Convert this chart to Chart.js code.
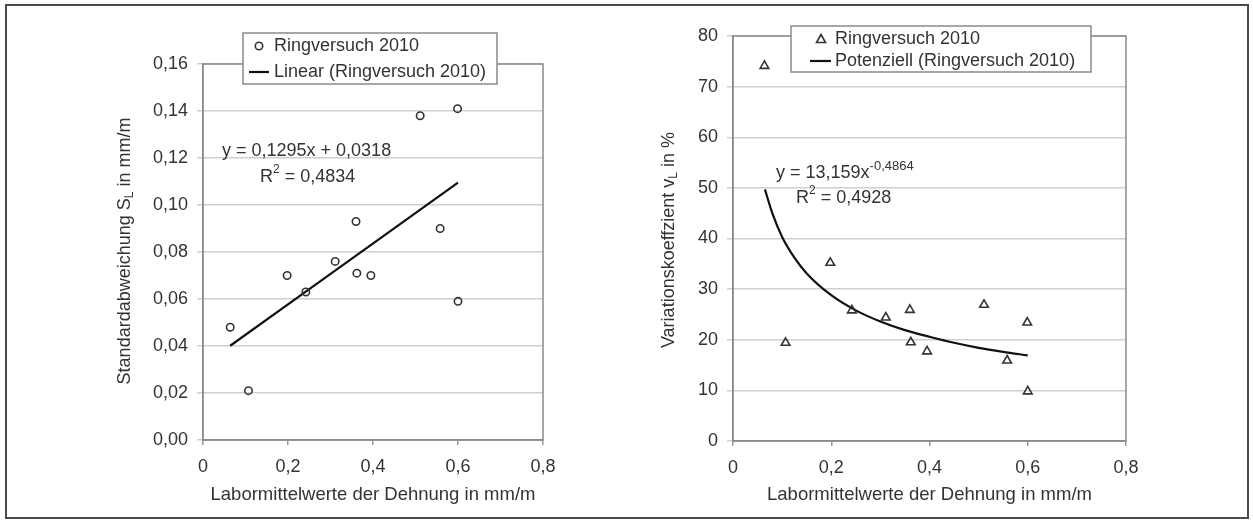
<!DOCTYPE html>
<html>
<head>
<meta charset="utf-8">
<title>Ringversuch 2010</title>
<script src="https://cdn.jsdelivr.net/npm/chart.js@4.4.0/dist/chart.umd.min.js"></script>
<style>
  body { margin: 0; background: #fff; }
  #frame { position: absolute; left: 5px; top: 4px; width: 1240px; height: 511px; border: 2px solid #4a4a4a; }
  .panel { position: absolute; top: 0; }
</style>
</head>
<body>
<div id="frame"></div>
<div class="panel" style="left:0"><canvas id="stdChart" width="626" height="528"></canvas></div>
<div class="panel" style="left:626px"><canvas id="varChart" width="627" height="528"></canvas></div>
<script>
// lab means of strain (mm/m), shared by both panels
const labMeans = [0.064, 0.107, 0.198, 0.242, 0.311, 0.360, 0.362, 0.395, 0.511, 0.558, 0.599, 0.600];
// left panel: standard deviation S_L (mm/m)
const stdDev = [0.048, 0.021, 0.070, 0.063, 0.076, 0.093, 0.071, 0.070, 0.138, 0.090, 0.141, 0.059];
// right panel: coefficient of variation v_L (%)
const varCoeff = [74.1, 19.4, 35.2, 25.8, 24.4, 25.9, 19.5, 17.7, 26.9, 15.9, 23.4, 9.8];
// trend lines
const linTrendX = [0.064, 0.600];
const linTrendY = [0.0401, 0.1095];
const powTrendX = [0.065, 0.08, 0.10, 0.125, 0.15, 0.20, 0.25, 0.30, 0.35, 0.40, 0.45, 0.50, 0.55, 0.60];
const powTrendY = [49.7, 45.0, 40.3, 36.2, 33.1, 28.8, 25.8, 23.6, 21.9, 20.6, 19.4, 18.4, 17.6, 16.9];
// axis ranges
const xTicks = [0, 0.2, 0.4, 0.6, 0.8];
const stdTicks = [0, 0.02, 0.04, 0.06, 0.08, 0.10, 0.12, 0.14, 0.16];
const varTicks = [0, 10, 20, 30, 40, 50, 60, 70, 80];

const TXT = '#333';
const FONT = '"Liberation Sans", Arial, sans-serif';
Chart.defaults.font.family = FONT;
Chart.defaults.font.size = 18;
Chart.defaults.color = TXT;

const pts = ys => labMeans.map((x, i) => ({ x: x, y: ys[i] }));
const pairs = (xs, ys) => xs.map((x, i) => ({ x: x, y: ys[i] }));
const comma = (v, d) => v.toFixed(d).replace('.', ',');

function marker(ctx, style, x, y) {
  ctx.save();
  ctx.strokeStyle = '#333';
  ctx.lineWidth = 1.6;
  ctx.beginPath();
  if (style === 'circle') {
    ctx.arc(x, y, 3.7, 0, Math.PI * 2);
  } else {
    ctx.moveTo(x, y - 4.5);
    ctx.lineTo(x + 4.5, y + 3.5);
    ctx.lineTo(x - 4.5, y + 3.5);
    ctx.closePath();
  }
  ctx.stroke();
  ctx.restore();
}

// text with a small raised or lowered part: parts = [[text, size, dy], ...]
function richText(ctx, parts, x, y) {
  let cx = x;
  parts.forEach(p => {
    ctx.font = p[1] + 'px ' + FONT;
    ctx.fillText(p[0], cx, y + p[2]);
    cx += ctx.measureText(p[0]).width;
  });
  return cx - x;
}
function richWidth(ctx, parts) {
  let w = 0;
  parts.forEach(p => { ctx.font = p[1] + 'px ' + FONT; w += ctx.measureText(p[0]).width; });
  return w;
}

function decor(cfg) {
  return {
    id: 'decor',
    beforeDatasetsDraw(chart) {
      const a = chart.chartArea, ctx = chart.ctx;
      ctx.save();
      ctx.strokeStyle = '#8a8a8a';
      ctx.lineWidth = 1.5;
      ctx.strokeRect(a.left, a.top, a.right - a.left, a.bottom - a.top);
      ctx.restore();
    },
    afterDraw(chart) {
      const ctx = chart.ctx, L = cfg.legend;
      ctx.save();
      ctx.textBaseline = 'middle';
      // legend box
      ctx.fillStyle = '#fff';
      ctx.fillRect(L.x, L.y, L.w, L.h);
      ctx.strokeStyle = '#8a8a8a';
      ctx.lineWidth = 1.5;
      ctx.strokeRect(L.x, L.y, L.w, L.h);
      marker(ctx, cfg.style, L.mx, L.y1);
      ctx.strokeStyle = '#111';
      ctx.lineWidth = 2.2;
      ctx.beginPath();
      ctx.moveTo(L.lx0, L.y2);
      ctx.lineTo(L.lx1, L.y2);
      ctx.stroke();
      ctx.fillStyle = TXT;
      ctx.font = '18px ' + FONT;
      ctx.fillText(L.t1, L.tx, L.y1);
      ctx.fillText(L.t2, L.tx, L.y2);
      // equation and R squared
      cfg.notes.forEach(n => richText(ctx, n.parts, n.x, n.y));
      // rotated y title with subscript
      ctx.translate(cfg.yTitle.x, cfg.yTitle.y);
      ctx.rotate(-Math.PI / 2);
      const w = richWidth(ctx, cfg.yTitle.parts);
      richText(ctx, cfg.yTitle.parts, -w / 2, 0);
      ctx.restore();
    }
  };
}

function makeChart(id, o) {
  new Chart(document.getElementById(id), {
    type: 'scatter',
    data: {
      datasets: [
        {
          label: 'Ringversuch 2010',
          data: o.points,
          pointStyle: o.style,
          pointRadius: o.style === 'circle' ? 3.7 : 5,
          backgroundColor: 'rgba(0,0,0,0)',
          borderColor: '#333',
          borderWidth: 1.6
        },
        {
          label: o.trendLabel,
          data: o.trend,
          showLine: true,
          pointRadius: 0,
          borderColor: '#111',
          borderWidth: 2.2,
          cubicInterpolationMode: 'monotone'
        }
      ]
    },
    options: {
      responsive: false,
      animation: false,
      events: [],
      layout: { padding: { top: o.top, right: o.right, left: 0, bottom: 0 } },
      plugins: { legend: { display: false }, tooltip: { enabled: false } },
      scales: {
        x: {
          type: 'linear',
          min: 0, max: 0.8,
          afterBuildTicks: s => { s.ticks = xTicks.map(v => ({ value: v })); },
          afterFit: s => { s.height = o.xHeight; },
          ticks: { padding: 11, callback: v => v === 0 ? '0' : comma(v, 1) },
          grid: { drawOnChartArea: false, tickLength: 5, color: '#999', lineWidth: 1.5 },
          border: { color: '#8a8a8a', width: 1.5 },
          title: { display: true, text: 'Labormittelwerte der Dehnung in mm/m', font: { size: 18.5 }, padding: { top: 0, bottom: 22 } }
        },
        y: {
          type: 'linear',
          min: 0, max: o.yMax,
          afterBuildTicks: s => { s.ticks = o.yTicks.map(v => ({ value: v })); },
          afterFit: s => { s.width = o.yWidth; },
          ticks: { padding: 9, callback: v => comma(v, o.dec) },
          grid: { color: '#cfcfcf', lineWidth: 1.5, tickLength: 6 },
          border: { color: '#8a8a8a', width: 1.5 }
        }
      }
    },
    plugins: [decor(o.decor)]
  });
}

makeChart('stdChart', {
  points: pts(stdDev),
  trend: pairs(linTrendX, linTrendY),
  trendLabel: 'Linear (Ringversuch 2010)',
  style: 'circle',
  yMax: 0.16, yTicks: stdTicks, dec: 2,
  top: 64, right: 83, yWidth: 203, xHeight: 88,
  decor: {
    style: 'circle',
    legend: { x: 243, y: 33, w: 254, h: 51, mx: 259, tx: 274, y1: 46, y2: 72, lx0: 249, lx1: 269,
              t1: 'Ringversuch 2010', t2: 'Linear (Ringversuch 2010)' },
    notes: [
      { x: 222, y: 151, parts: [['y = 0,1295x + 0,0318', 18, 0]] },
      { x: 260, y: 177, parts: [['R', 18, 0], ['2', 12, -7], [' = 0,4834', 18, 0]] }
    ],
    yTitle: { x: 125, y: 251, parts: [['Standardabweichung S', 18, 0], ['L', 12, 5], [' in mm/m', 18, 0]] }
  }
});

makeChart('varChart', {
  points: pts(varCoeff),
  trend: pairs(powTrendX, powTrendY),
  trendLabel: 'Potenziell (Ringversuch 2010)',
  style: 'triangle',
  yMax: 80, yTicks: varTicks, dec: 0,
  top: 36, right: 127, yWidth: 107, xHeight: 87,
  decor: {
    style: 'triangle',
    legend: { x: 165, y: 26, w: 300, h: 46, mx: 195, tx: 209, y1: 39, y2: 61, lx0: 184, lx1: 205,
              t1: 'Ringversuch 2010', t2: 'Potenziell (Ringversuch 2010)' },
    notes: [
      { x: 150, y: 173, parts: [['y = 13,159x', 18, 0], ['-0,4864', 13, -7]] },
      { x: 170, y: 198, parts: [['R', 18, 0], ['2', 12, -7], [' = 0,4928', 18, 0]] }
    ],
    yTitle: { x: 43, y: 240, parts: [['Variationskoeffzient v', 18, 0], ['L', 12, 5], [' in %', 18, 0]] }
  }
});
</script>
</body>
</html>
